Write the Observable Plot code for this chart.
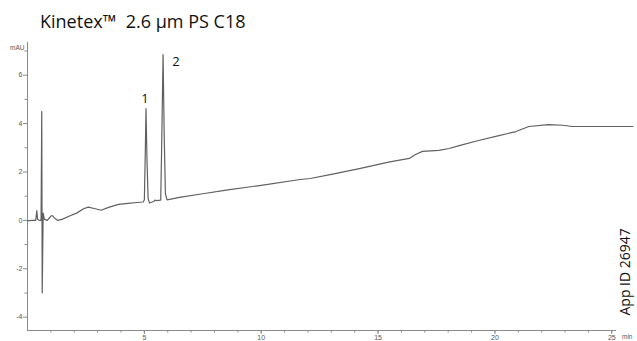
<!DOCTYPE html>
<html>
<head>
<meta charset="utf-8">
<script src="https://cdn.jsdelivr.net/npm/d3@7"></script>
<script src="https://cdn.jsdelivr.net/npm/@observablehq/plot@0.6"></script>
<style>
  html, body { margin: 0; padding: 0; background: #fff; }
  #wrap { position: relative; width: 637px; height: 341px; overflow: hidden; }
  #title { position: absolute; left: 40px; top: 10px; font-family: "Open Sans", sans-serif; font-size: 18px; color: #111; white-space: pre; line-height: 22px; }
  #chart { position: absolute; left: 0; top: 0; }
</style>
</head>
<body>
<div id="wrap">
  <div id="chart"></div>
  <div id="title">Kinetex™  2.6 µm PS C18</div>
</div>
<script>
// Chromatogram trace (time in min, signal in mAU)
const traceTime = [
  0.0, 0.2, 0.35, 0.40, 0.43, 0.5, 0.58, 0.61, 0.63, 0.67, 0.72, 0.85,
  1.0, 1.06, 1.15, 1.3, 1.5, 1.8, 2.1, 2.4, 2.6, 2.9, 3.15, 3.5, 3.9, 4.3, 4.7,
  4.95, 5.0, 5.04, 5.07, 5.11, 5.16, 5.22, 5.4, 5.45, 5.5, 5.7, 5.74, 5.80, 5.85, 5.9, 5.97,
  6.5, 7.5, 8.5, 10, 11.66, 12.1, 13, 14.2, 15.5, 16.34, 16.6, 16.9, 17.6, 18.04, 18.47,
  19.3, 20.17, 20.9, 21.45, 22.3, 22.9, 23.3, 24.5, 25.9
];
const traceSignal = [
  -0.02, 0.0, 0.0, 0.4, 0.05, 0.0, 0.0, 4.5, -3.0, 0.3, 0.05, 0.0,
  0.18, 0.2, 0.1, 0.0, 0.05, 0.18, 0.3, 0.48, 0.55, 0.48, 0.42, 0.55, 0.66, 0.7, 0.74,
  0.76, 0.85, 2.8, 4.62, 2.6, 0.9, 0.72, 0.78, 0.84, 0.82, 0.84, 3.0, 6.85, 3.5, 1.1, 0.85,
  0.95, 1.1, 1.25, 1.45, 1.69, 1.73, 1.9, 2.14, 2.42, 2.56, 2.72, 2.85, 2.89, 2.97, 3.09,
  3.3, 3.5, 3.67, 3.88, 3.96, 3.93, 3.88, 3.88, 3.88
];

// Peak labels
const peakTimes = [5.07, 5.80];
const peakHeights = [4.62, 6.85];
const peakLabels = ["1", "2"];

// Axes
const xDomain = [0, 26.1];
const yDomain = [-4.55, 7.35];
const xAxisEnd = 25.2;
const xMajorTicks = [5, 10, 15, 20, 25];
const xMinorTicks = d3.range(1, 26);
const yMajorTicks = [-4, -2, 0, 2, 4, 6];
const yMinorTicks = [-3, -1, 1, 3, 5, 7];
const yUnit = "mAU";
const xUnit = "min";
const appId = "App ID 26947";

const trace = traceTime.map((t, i) => ({t, v: traceSignal[i]}));
const peaks = peakTimes.map((t, i) => ({t, v: peakHeights[i], label: peakLabels[i]}));

const axisColor = "#8a8a8a";
const tickFont = "Liberation Sans, Arial, sans-serif";

const chart = Plot.plot({
  width: 637,
  height: 341,
  marginLeft: 27,
  marginRight: 0,
  marginTop: 42,
  marginBottom: 11,
  x: {domain: xDomain},
  y: {domain: yDomain},
  style: {background: "white", overflow: "visible"},
  marks: [
    // axis lines
    Plot.ruleY([yDomain[0]], {x1: xDomain[0], x2: xAxisEnd, stroke: axisColor, strokeWidth: 1}),
    Plot.ruleX([xDomain[0]], {y1: yDomain[0], y2: yDomain[1], stroke: axisColor, strokeWidth: 1}),
    // x ticks
    Plot.axisX({ticks: xMinorTicks, tickSize: 2.5, stroke: axisColor, tickFormat: () => "", label: null}),
    Plot.axisX({ticks: xMajorTicks, tickSize: 4, tickPadding: 1, stroke: axisColor, fill: "#555",
      fontSize: 7, fontFamily: tickFont, tickFormat: d => String(d), label: null}),
    // y ticks
    Plot.axisY({ticks: yMinorTicks, tickSize: 2.5, stroke: axisColor, tickFormat: () => "", label: null}),
    Plot.axisY({ticks: yMajorTicks, tickSize: 4, tickPadding: 1, stroke: axisColor, fill: "#555",
      fontSize: 7, fontFamily: tickFont, tickFormat: d => String(d), label: null}),
    // trace
    Plot.line(trace, {x: "t", y: "v", stroke: "#606060", strokeWidth: 1.2, curve: "linear"}),
    // peak labels
    Plot.text(peaks.filter(d => d.label === "1"), {x: "t", y: "v", text: "label", dx: -1, dy: -10,
      fontSize: 13, fontFamily: "Open Sans, sans-serif", fill: "#111"}),
    Plot.text(peaks.filter(d => d.label === "2"), {x: "t", y: "v", text: "label", dx: 13, dy: 7,
      fontSize: 13, fontFamily: "Open Sans, sans-serif", fill: "#111"}),
    // unit labels
    Plot.text([yUnit], {frameAnchor: "top-left", dx: -3, dy: 3, textAnchor: "end",
      fontSize: 6.5, fontFamily: tickFont, fill: "#555"}),
    Plot.text([xUnit], {frameAnchor: "bottom-right", dx: -5, dy: 8, textAnchor: "end",
      fontSize: 6.5, fontFamily: tickFont, fill: "#555"}),
    // app id
    Plot.text([appId], {frameAnchor: "bottom-right", dx: -8, dy: -15, rotate: -90, textAnchor: "start",
      fontSize: 14, fontFamily: "Open Sans, sans-serif", fill: "#111"})
  ]
});
document.getElementById("chart").appendChild(chart);
</script>
</body>
</html>
